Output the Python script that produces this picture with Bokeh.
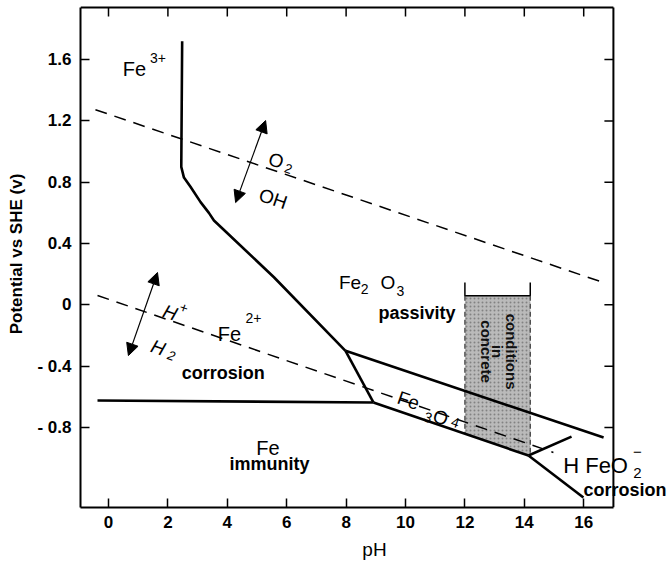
import math
from bokeh.plotting import figure
from bokeh.models import Label, Arrow, NormalHead, FixedTicker, Range1d
from bokeh.embed import file_html
from bokeh.resources import INLINE

# ---------------- data (pH, potential V vs SHE) ----------------
x_ticks = [0, 2, 4, 6, 8, 10, 12, 14, 16]
y_ticks = [1.6, 1.2, 0.8, 0.4, 0.0, -0.4, -0.8]
y_tick_labels = ["1.6", "1.2", "0.8", "0.4", "0", "- 0.4", "- 0.8"]

# diagram box (pH, V)
box_ph = [-0.943, 17.0]
box_v = [-1.322, 1.939]

# Fe3+/Fe2+ | Fe2O3 boundary
fe2o3_left_ph = [2.48, 2.45, 2.54, 2.76, 3.10, 3.38, 3.55, 3.88, 5.57, 7.98]
fe2o3_left_v = [1.72, 0.90, 0.83, 0.77, 0.67, 0.60, 0.55, 0.49, 0.18, -0.30]
# Fe2O3 | Fe3O4
fe2o3_fe3o4_ph = [7.98, 16.67]
fe2o3_fe3o4_v = [-0.30, -0.866]
# Fe2+ | Fe3O4
fe2_fe3o4_ph = [7.98, 8.92]
fe2_fe3o4_v = [-0.30, -0.637]
# Fe | Fe2+
fe_fe2_ph = [-0.37, 8.92]
fe_fe2_v = [-0.624, -0.637]
# Fe | Fe3O4
fe_fe3o4_ph = [8.92, 14.14]
fe_fe3o4_v = [-0.637, -0.983]
# Fe | HFeO2-
fe_hfeo2_ph = [14.14, 15.99]
fe_hfeo2_v = [-0.983, -1.257]
# Fe3O4 | HFeO2-
fe3o4_hfeo2_ph = [14.14, 15.59]
fe3o4_hfeo2_v = [-0.983, -0.860]

# water stability lines (dashed)
o2_ph = [-0.44, 16.73]
o2_v = [1.273, 0.141]
h2_ph = [-0.37, 14.98]
h2_v = [0.061, -0.963]

# conditions in concrete
conc_ph = [12.0, 14.2, 14.2, 12.0]
conc_v = [0.06, 0.06, -0.986, -0.84]
bracket_ph = [12.0, 12.0, 14.2, 14.2]
bracket_v = [0.145, 0.06, 0.06, 0.145]

FONT = "Liberation Sans"
PX_PER_PH = 29.7
PX_PER_V = 153.3
TICK = 9  # px

W, H = 668, 569
LEFT, TOP, BOTTOM = 80, 0, 62
x_max = box_ph[0] + (W - LEFT) / PX_PER_PH
y_top = box_v[0] + (H - BOTTOM - TOP) / PX_PER_V

p = figure(width=W, height=H,
           x_range=Range1d(box_ph[0], x_max), y_range=Range1d(box_v[0], y_top),
           output_backend="svg", toolbar_location=None,
           min_border_left=LEFT, min_border_right=0,
           min_border_top=TOP, min_border_bottom=BOTTOM)
p.grid.visible = False
p.outline_line_color = None
p.background_fill_color = "white"
p.border_fill_color = "white"


def style_axis(ax):
    ax.axis_line_width = 2
    ax.axis_line_color = "black"
    ax.major_tick_in = TICK
    ax.major_tick_out = 0
    ax.major_tick_line_width = 1.5
    ax.major_tick_line_color = "black"
    ax.minor_tick_line_color = None
    ax.major_label_text_font = FONT
    ax.major_label_text_font_style = "bold"
    ax.major_label_text_font_size = "17px"
    ax.major_label_text_color = "black"
    ax.axis_label_text_color = "black"
    ax.axis_label_text_font = FONT


xa = p.xaxis[0]
xa.ticker = FixedTicker(ticks=x_ticks)
style_axis(xa)
xa.bounds = (box_ph[0], box_ph[1])
xa.major_label_standoff = 8
xa.major_label_text_line_height = 1.0
xa.axis_label = "pH"
xa.axis_label_text_font_style = "normal"
xa.axis_label_text_font_size = "19px"
xa.axis_label_text_line_height = 1.0
xa.axis_label_standoff = 8

ya = p.yaxis[0]
ya.ticker = FixedTicker(ticks=y_ticks)
ya.major_label_overrides = {t: s for t, s in zip(y_ticks, y_tick_labels)}
style_axis(ya)
ya.bounds = (box_v[0], box_v[1])
ya.major_label_standoff = 9
ya.axis_label = "Potential vs SHE (v)"
ya.axis_label_text_font_style = "bold"
ya.axis_label_text_font_size = "17px"
ya.axis_label_standoff = 8

# top and right borders of the diagram, with inward ticks
p.line([box_ph[0], box_ph[1]], [box_v[1], box_v[1]], line_color="black", line_width=2)
p.line([box_ph[1], box_ph[1]], [box_v[0], box_v[1]], line_color="black", line_width=2)
p.segment(x0=x_ticks, x1=x_ticks, y0=[box_v[1]] * len(x_ticks),
          y1=[box_v[1] - TICK / PX_PER_V] * len(x_ticks), line_color="black", line_width=1.5)
p.segment(x0=[box_ph[1]] * len(y_ticks), x1=[box_ph[1] - TICK / PX_PER_PH] * len(y_ticks),
          y0=y_ticks, y1=y_ticks, line_color="black", line_width=1.5)

# concrete region
p.patch(conc_ph, conc_v, fill_color="#bababa", line_color=None,
        hatch_pattern="dot", hatch_color="#4a4a4a", hatch_scale=4, hatch_alpha=0.5)
p.line(bracket_ph, bracket_v, line_color="black", line_width=1.5)
p.line([conc_ph[0], conc_ph[3]], [conc_v[0], conc_v[3]], line_color="#333333", line_width=1.2, line_dash="5 3")
p.line([conc_ph[1], conc_ph[2]], [conc_v[1], conc_v[2]], line_color="#333333", line_width=1.2, line_dash="5 3")

# dashed water lines
p.line(o2_ph, o2_v, line_color="black", line_width=1.5, line_dash="12 8")
p.line(h2_ph, h2_v, line_color="black", line_width=1.5, line_dash="12 8")

# boundaries
for xs, ys in [(fe2o3_left_ph, fe2o3_left_v), (fe2o3_fe3o4_ph, fe2o3_fe3o4_v),
               (fe2_fe3o4_ph, fe2_fe3o4_v), (fe_fe2_ph, fe_fe2_v),
               (fe_fe3o4_ph, fe_fe3o4_v), (fe_hfeo2_ph, fe_hfeo2_v),
               (fe3o4_hfeo2_ph, fe3o4_hfeo2_v)]:
    p.line(xs, ys, line_color="black", line_width=2.6, line_join="round")

# double arrows
for (x0, y0, x1, y1) in [(4.28, 0.667, 5.29, 1.202), (0.67, -0.331, 1.65, 0.211)]:
    p.add_layout(Arrow(start=NormalHead(size=12, fill_color="black", line_color="black"),
                       end=NormalHead(size=12, fill_color="black", line_color="black"),
                       x_start=x0, y_start=y0, x_end=x1, y_end=y1,
                       line_width=1.2, line_color="black"))

A = -0.33
# (text, pH, V, size, style, angle)
labels = [
    ("Fe", 0.875, 1.541, 20, "normal", 0),
    ("3+", 1.667, 1.607, 14, "normal", 0),
    ("O", 5.64, 0.941, 19, "normal", A),
    ("2", 6.06, 0.889, 13, "normal", A),
    ("OH", 5.54, 0.693, 19, "normal", A),
    ("H", 2.07, -0.050, 19, "italic", A),
    ("+", 2.53, -0.018, 14, "italic", A),
    ("H", 1.67, -0.279, 19, "italic", A),
    ("2", 2.12, -0.331, 13, "italic", A),
    ("Fe", 4.07, -0.187, 20, "normal", 0),
    ("2+", 4.88, -0.089, 14, "normal", 0),
    ("corrosion", 3.86, -0.442, 18, "bold", 0),
    ("Fe", 5.37, -0.931, 20, "normal", 0),
    ("immunity", 5.42, -1.035, 18, "bold", 0),
    ("Fe", 8.13, 0.145, 19, "normal", 0),
    ("2", 8.62, 0.106, 14, "normal", 0),
    ("O", 9.41, 0.145, 19, "normal", 0),
    ("3", 9.83, 0.093, 14, "normal", 0),
    ("passivity", 10.39, -0.050, 18, "bold", 0),
    ("Fe", 10.10, -0.624, 19, "normal", A),
    ("3", 10.76, -0.733, 14, "normal", A),
    ("O", 11.18, -0.735, 19, "normal", A),
    ("4", 11.68, -0.766, 14, "normal", A),
    ("H FeO", 16.40, -1.048, 22, "normal", 0),
    ("2", 17.81, -1.094, 15, "normal", 0),
    ("\u2212", 17.81, -0.962, 15, "normal", 0),
    ("corrosion", 17.39, -1.211, 18, "bold", 0),
]
for t, x, y, s, st, ang in labels:
    p.add_layout(Label(x=x, y=y, text=t, text_font=FONT, text_font_size=f"{s}px",
                       text_font_style=st, text_align="center", text_baseline="alphabetic",
                       angle=ang, text_color="black"))

for t, x in [("conditions", 13.57), ("in", 13.10), ("concrete", 12.73)]:
    p.add_layout(Label(x=x, y=-0.305, text=t, text_font=FONT, text_font_size="15px",
                       text_font_style="bold", text_align="center", text_baseline="middle",
                       angle=-math.pi / 2, text_color="#111111"))

open("out.html", "w").write(file_html(p, INLINE))
